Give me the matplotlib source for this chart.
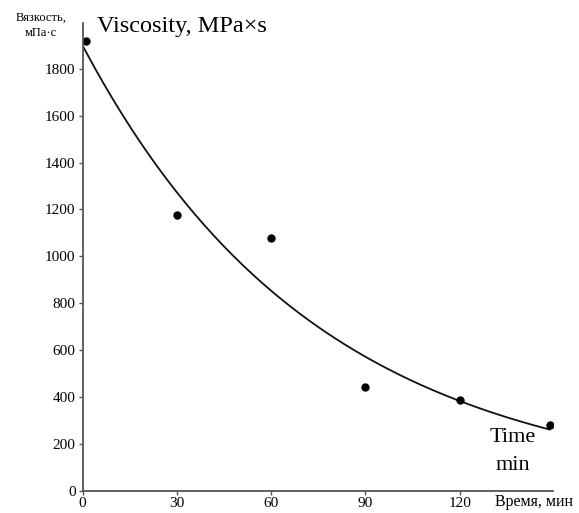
import numpy as np
import matplotlib
matplotlib.use("Agg")
import matplotlib.pyplot as plt

plt.rcParams['font.family'] = ['Liberation Serif', 'DejaVu Serif']

# измеренные точки (время, мин / вязкость, мПа·с)
time_min = [1, 30, 60, 90, 120, 148.6]
viscosity = [1917, 1178, 1080, 442, 387, 281]

x_ticks = [0, 30, 60, 90, 120]
y_ticks = [0, 200, 400, 600, 800, 1000, 1200, 1400, 1600, 1800]

# экспоненциальная линия тренда по точкам
k, ln_a = np.polyfit(time_min, np.log(viscosity), 1)
t_fit = np.linspace(0, max(time_min), 200)
v_fit = np.exp(ln_a) * np.exp(k * t_fit)

fig = plt.figure(figsize=(5.79, 5.13), dpi=100)
ax = fig.add_axes([82.5 / 579, 22 / 513, 470 / 579, 468 / 513])

ax.plot(t_fit, v_fit, color='#111111', lw=1.3)
ax.plot(time_min, viscosity, 'o', color='black', ms=5)

ax.set_xlim(0, 149.5)
ax.set_ylim(0, 1995)
ax.set_xticks(x_ticks)
ax.set_yticks(y_ticks)
ax.tick_params(labelsize=11, length=3, width=1, color='#555555')
ax.tick_params(axis='x', pad=1)
ax.tick_params(axis='y', pad=2)
for s in ['top', 'right']:
    ax.spines[s].set_visible(False)
for s in ['left', 'bottom']:
    ax.spines[s].set_color('#555555')
    ax.spines[s].set_linewidth(1.3)

fig.text(41 / 579, 1 - 18 / 513, 'Вязкость,', ha='center', va='center', fontsize=9)
fig.text(41 / 579, 1 - 33 / 513, 'мПа·с', ha='center', va='center', fontsize=9)
fig.text(97 / 579, 1 - 27 / 513, 'Viscosity, MPa×s', ha='left', va='center', fontsize=17.5)
fig.text(513 / 579, 1 - 438 / 513, 'Time', ha='center', va='center', fontsize=16)
fig.text(513 / 579, 1 - 465 / 513, 'min', ha='center', va='center', fontsize=16)
fig.text(495 / 579, 1 - 502 / 513, 'Время, мин', ha='left', va='center', fontsize=11.5)

fig.savefig('out.png', dpi=100)
